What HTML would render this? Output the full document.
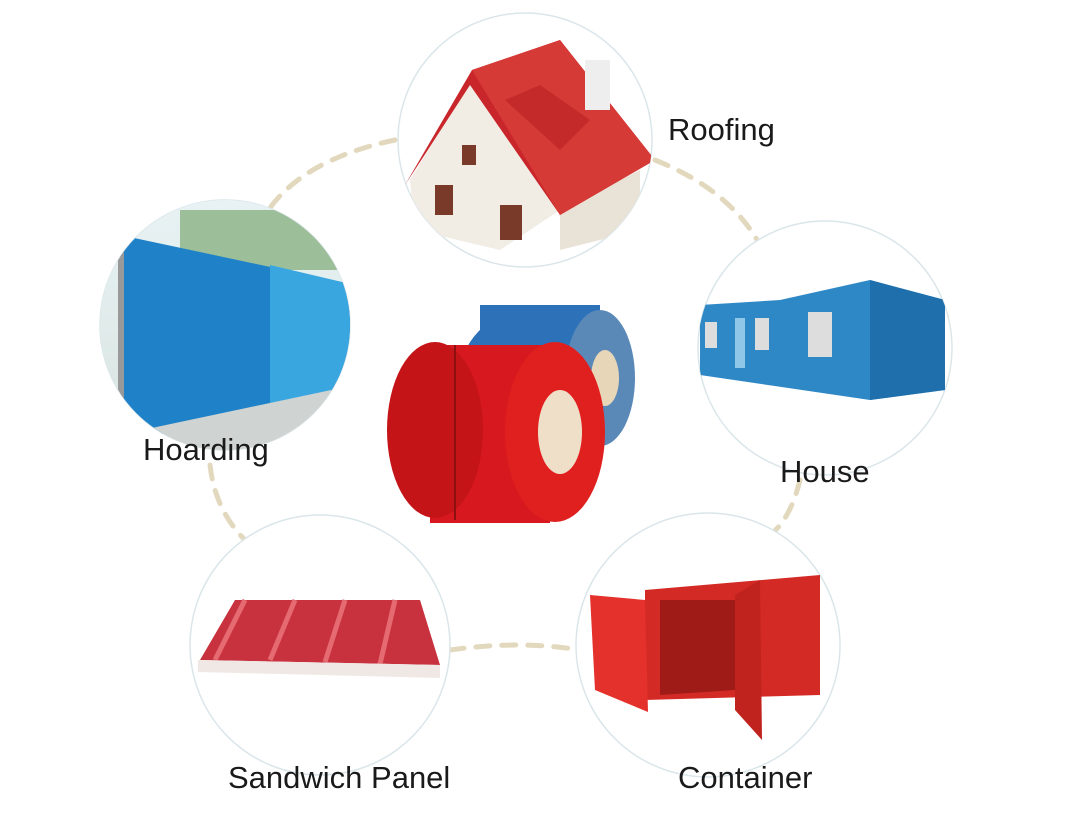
<!DOCTYPE html>
<html><head><meta charset="utf-8"><style>
html,body{margin:0;padding:0;background:#fff;}
svg{display:block;}
text{font-family:"Liberation Sans",sans-serif;fill:#1a1a1a;}
</style></head><body>
<svg width="1080" height="827" viewBox="0 0 1080 827" xmlns="http://www.w3.org/2000/svg">
<defs>
<clipPath id="c1"><circle cx="525" cy="140" r="127"/></clipPath>
<clipPath id="c2"><circle cx="225" cy="325" r="125"/></clipPath>
<clipPath id="c3"><circle cx="825" cy="348" r="127"/></clipPath>
<clipPath id="c4"><circle cx="320" cy="645" r="130"/></clipPath>
<clipPath id="c5"><circle cx="708" cy="645" r="132"/></clipPath>
<linearGradient id="sky" x1="0" y1="0" x2="0" y2="1"><stop offset="0" stop-color="#e8f2f4"/><stop offset="1" stop-color="#d8e4e0"/></linearGradient>
</defs>
<g stroke="#e2d8bd" stroke-width="5" stroke-dasharray="14 12" fill="none" stroke-linecap="round">
<path d="M395 140 Q300 160 265 215"/>
<path d="M655 160 Q730 190 760 245"/>
<path d="M210 465 Q215 510 245 540"/>
<path d="M800 480 Q790 520 770 535"/>
<path d="M450 650 Q520 640 580 650"/>
</g>
<g fill="#fff" stroke="#dbe6ea" stroke-width="1.5">
<circle cx="525" cy="140" r="127"/><circle cx="225" cy="325" r="125"/><circle cx="825" cy="348" r="127"/><circle cx="320" cy="645" r="130"/><circle cx="708" cy="645" r="132"/>
</g>
<g clip-path="url(#c1)">
<polygon points="410,180 470,80 560,210 500,250 415,230" fill="#f1ece4"/>
<polygon points="560,210 640,170 640,230 560,250" fill="#e9e2d6"/>
<polygon points="405,185 472,70 560,40 655,160 560,215 470,85" fill="#c9262b"/>
<polygon points="472,70 560,40 655,160 560,215" fill="#d63a36"/>
<polygon points="505,100 540,85 590,120 560,150" fill="#c42a2a"/>
<rect x="585" y="60" width="25" height="50" fill="#eee"/>
<rect x="435" y="185" width="18" height="30" fill="#7a3a2a"/><rect x="500" y="205" width="22" height="35" fill="#7a3a2a"/><rect x="462" y="145" width="14" height="20" fill="#7a3a2a"/>
</g>
<g clip-path="url(#c2)">
<rect x="95" y="200" width="260" height="250" fill="url(#sky)"/>
<rect x="180" y="210" width="160" height="60" fill="#9cbf9a"/>
<polygon points="120,235 355,285 355,385 120,445" fill="#1f82c8"/>
<polygon points="270,265 355,285 355,385 270,405" fill="#3aa6e0"/>
<rect x="118" y="232" width="6" height="215" fill="#999"/>
<polygon points="95,440 355,385 355,460 95,460" fill="#cfd3d1"/>
</g>
<g clip-path="url(#c3)">
<polygon points="700,305 780,300 870,280 945,300 945,390 870,400 700,375" fill="#2e88c6"/>
<polygon points="870,280 945,300 945,390 870,400" fill="#1f6fad"/>
<rect x="755" y="318" width="14" height="32" fill="#ddd"/><rect x="808" y="312" width="24" height="45" fill="#ddd"/><rect x="735" y="318" width="10" height="50" fill="#8fc7e8"/><rect x="705" y="322" width="12" height="26" fill="#ddd"/>
</g>
<g clip-path="url(#c4)">
<polygon points="200,660 235,600 420,600 440,665" fill="#c8323e"/>
<g stroke="#e56a72" stroke-width="5"><line x1="215" y1="660" x2="245" y2="600"/><line x1="270" y1="660" x2="295" y2="600"/><line x1="325" y1="662" x2="345" y2="600"/><line x1="380" y1="664" x2="395" y2="600"/></g>
<polygon points="198,660 440,665 440,678 198,672" fill="#f0e8e4"/>
</g>
<g clip-path="url(#c5)">
<polygon points="645,590 820,575 820,695 645,700" fill="#d42a25"/>
<polygon points="660,600 735,600 735,690 660,695" fill="#9e1b17"/>
<polygon points="590,595 645,600 648,712 595,690" fill="#e4312b"/>
<polygon points="735,595 760,580 762,740 735,710" fill="#c0231e"/>
</g>
<ellipse cx="545" cy="375" rx="85" ry="70" fill="#2d72b8"/>
<rect x="480" y="305" width="120" height="140" fill="#2d72b8"/>
<ellipse cx="600" cy="378" rx="35" ry="68" fill="#5a89b8"/>
<ellipse cx="605" cy="378" rx="14" ry="28" fill="#e8d6b8"/>
<rect x="430" y="345" width="120" height="178" fill="#d7191f"/>
<ellipse cx="435" cy="430" rx="48" ry="88" fill="#c41418"/>
<ellipse cx="555" cy="432" rx="50" ry="90" fill="#e0201f"/>
<ellipse cx="560" cy="432" rx="22" ry="42" fill="#f0dfc8"/>
<line x1="455" y1="345" x2="455" y2="520" stroke="#8e0f10" stroke-width="2"/>
<text x="668" y="140" font-size="31">Roofing</text>
<text x="143" y="460" font-size="31">Hoarding</text>
<text x="780" y="482" font-size="31">House</text>
<text x="228" y="788" font-size="31">Sandwich Panel</text>
<text x="678" y="788" font-size="31">Container</text>
</svg>
</body></html>
